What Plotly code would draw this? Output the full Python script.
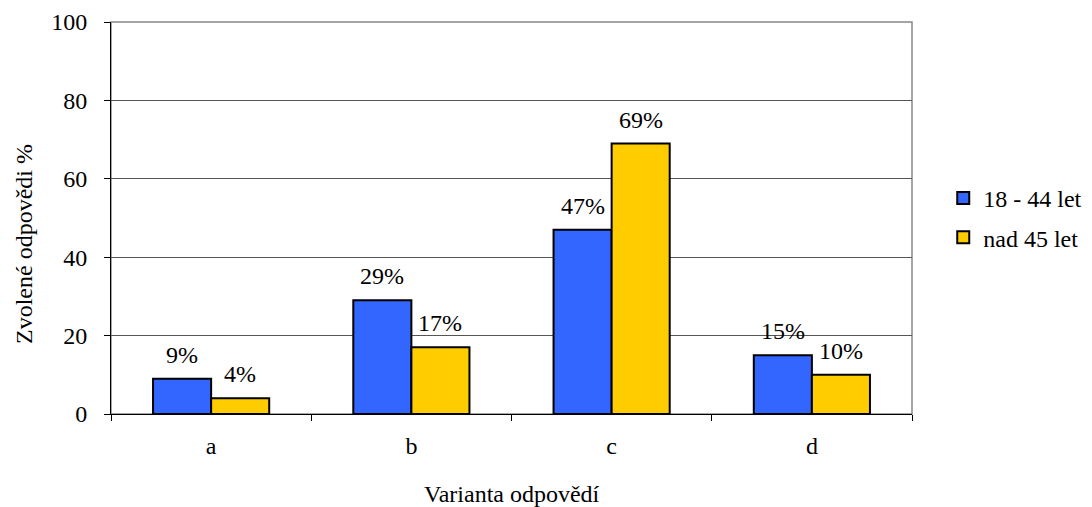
import plotly.graph_objects as go

categories = ["a", "b", "c", "d"]
young = [9, 29, 47, 15]
old = [4, 17, 69, 10]
series_names = ["18 - 44 let", "nad 45 let"]
y_ticks = [0, 20, 40, 60, 80, 100]
x_title = "Varianta odpovědí"
y_title = "Zvolené odpovědi %"

FONT = "Times New Roman"
FS = 24
colors = ["#3366FF", "#FFCC00"]

# page body has an 8px margin, so the figure is made 8px smaller and margins shifted
PLOT_L, PLOT_T, PLOT_W, PLOT_H = 103, 14, 801, 392
FIG_W, FIG_H = 1084, 499

fig = go.Figure()
for i, (vals, name) in enumerate([(young, series_names[0]), (old, series_names[1])]):
    fig.add_trace(go.Bar(x=categories, y=vals, name=name, legendgroup=f"g{i}",
                         marker=dict(color=colors[i], line=dict(color="black", width=2)),
                         cliponaxis=False))

annotations = []
for vals, xs in [(young, -29), (old, 29)]:
    for c, v in zip(categories, vals):
        annotations.append(dict(x=c, y=v, xref="x", yref="y", text=f"{v}%",
                                showarrow=False, xshift=xs, yshift=9, yanchor="bottom",
                                font=dict(family=FONT, size=FS, color="black")))
annotations.append(dict(x=0.5, y=-80 / PLOT_H, xref="paper", yref="paper", text=x_title,
                        showarrow=False, xanchor="center", yanchor="middle",
                        font=dict(family=FONT, size=FS, color="black")))
annotations.append(dict(x=-87 / PLOT_W, y=170 / PLOT_H, xref="paper", yref="paper",
                        text=y_title, textangle=-90, showarrow=False,
                        xanchor="center", yanchor="middle",
                        font=dict(family=FONT, size=FS, color="black")))

fig.update_layout(
    width=FIG_W, height=FIG_H,
    margin=dict(l=PLOT_L, r=FIG_W - PLOT_L - PLOT_W, t=PLOT_T, b=FIG_H - PLOT_T - PLOT_H,
                autoexpand=False),
    paper_bgcolor="white", plot_bgcolor="white",
    barmode="group", bargap=0.42, bargroupgap=0,
    font=dict(family=FONT, size=FS, color="black"),
    showlegend=True,
    legend=dict(x=1.039, y=0.5, xanchor="left", yanchor="middle",
                font=dict(size=24, family=FONT, color="black"), tracegroupgap=5,
                itemwidth=30, traceorder="grouped"),
    xaxis=dict(tickson="boundaries", ticks="outside", ticklen=6, tickcolor="black",
               showline=True, linecolor="black", linewidth=1, automargin=False,
               ticklabelstandoff=10,
               tickfont=dict(size=FS, family=FONT, color="black")),
    yaxis=dict(range=[0, 100], tickvals=y_ticks, ticks="outside", ticklen=6, tickcolor="black",
               showline=True, linecolor="black", linewidth=1, automargin=False,
               ticklabelstandoff=12,
               showgrid=True, gridcolor="#555555", gridwidth=1,
               zeroline=True, zerolinecolor="black", zerolinewidth=1,
               tickfont=dict(size=FS, family=FONT, color="black")),
    annotations=annotations,
    shapes=[dict(type="rect", xref="paper", yref="paper", x0=0, x1=1, y0=0, y1=1,
                 line=dict(color="#888888", width=1.5), layer="below")],
)

fig.write_html("out.html")
